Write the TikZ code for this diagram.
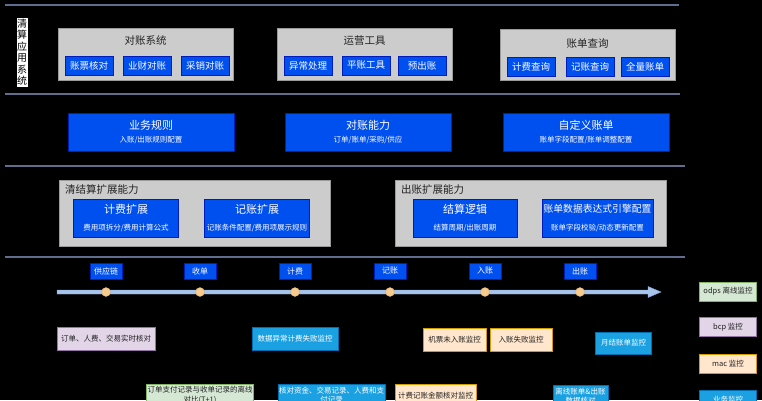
\documentclass[tikz,border=0pt]{standalone}
\usepackage{fontspec}
\setmainfont{Noto Sans CJK SC}
\newfontfamily\cjk{Noto Sans CJK SC}
\definecolor{sepline}{HTML}{5F6E8C}
\definecolor{grayfill}{HTML}{CCCCCC}
\definecolor{grayedge}{HTML}{9A9A9A}
\definecolor{bluefill}{HTML}{0050EF}
\definecolor{blueedge}{HTML}{001DBC}
\definecolor{monblue}{HTML}{1BA1E2}
\definecolor{monblueedge}{HTML}{006EAF}
\definecolor{greenfill}{HTML}{D5E8D4}
\definecolor{greenedge}{HTML}{82B366}
\definecolor{lavfill}{HTML}{E1D5E7}
\definecolor{lavedge}{HTML}{9673A6}
\definecolor{peachfill}{HTML}{FFE6CC}
\definecolor{peachedge}{HTML}{D79B00}
\definecolor{tline}{HTML}{A9C4EB}
\definecolor{tlineedge}{HTML}{7EA6E0}
\definecolor{dotfill}{HTML}{F7CB8E}
\definecolor{darktext}{HTML}{222222}
\tikzset{
  sep/.style={draw=sepline, line width=1.3pt},
  graybox/.style={draw=grayedge, fill=grayfill, line width=0.6pt, inner sep=0pt},
  btn/.style={draw=blueedge, fill=bluefill, line width=0.5pt, text=white, inner sep=0pt,
     minimum width=48pt, minimum height=19pt, font=\fontsize{9.5}{11}\selectfont},
  bigblue/.style={draw=blueedge, fill=bluefill, line width=0.5pt, inner sep=0pt},
  titletxt/.style={text=darktext, font=\fontsize{10.5}{12}\selectfont, inner sep=0pt},
  wtitle/.style={text=white, font=\fontsize{11}{13}\selectfont, inner sep=0pt},
  wsub/.style={text=white, font=\fontsize{7.5}{9}\selectfont, inner sep=0pt},
  tlabel/.style={draw=blueedge, fill=bluefill, line width=0.5pt, text=white, inner sep=0pt,
     minimum width=32pt, minimum height=16pt, font=\fontsize{8}{9}\selectfont},
  tdot/.style={circle, fill=dotfill, draw=dotfill!85!black, line width=0.3pt, minimum size=9pt, inner sep=0pt},
  mon/.style={inner sep=0pt, line width=0.5pt, align=center, font=\fontsize{7.5}{9.5}\selectfont},
  mgreen/.style={mon, draw=greenedge, fill=greenfill, text=darktext},
  mlav/.style={mon, draw=lavedge, fill=lavfill, text=darktext},
  mpeach/.style={mon, draw=peachedge, fill=peachfill, text=darktext},
  mblue/.style={mon, draw=monblueedge, fill=monblue, text=white},
  vchar/.style={fill=white, text=black, inner sep=0.5pt, minimum width=11pt, minimum height=11.6pt, font=\fontsize{10}{11}\selectfont},
}
\begin{document}
\begin{tikzpicture}[x=1pt, y=-1pt]
\clip (0,0) rectangle (762,400);
\fill[black] (0,0) rectangle (762,400);

% separator lines
\coordinate (s1a) at (5,5);   \coordinate (s1b) at (679,5);
\coordinate (s2a) at (5,94);  \coordinate (s2b) at (680,94);
\coordinate (s3a) at (5,166); \coordinate (s3b) at (685,166);
\coordinate (s4a) at (5,257); \coordinate (s4b) at (685,257);
\draw[sep] (s1a) -- (s1b);
\draw[sep] (s2a) -- (s2b);
\draw[sep] (s3a) -- (s3b);
\draw[sep] (s4a) -- (s4b);

% vertical label
\node[vchar] (v1) at (22,23.5) {清};
\node[vchar] (v2) at (22,35) {算};
\node[vchar] (v3) at (22,46.5) {应};
\node[vchar] (v4) at (22,58) {用};
\node[vchar] (v5) at (22,69.5) {系};
\node[vchar] (v6) at (22,81) {统};

% row 1 gray boxes
\node[graybox, minimum width=175pt, minimum height=52pt] (g1) at (145.5,54) {};
\node[titletxt] (g1t) at (145.5,41) {对账系统};
\node[btn] (b11) at (89,65.5) {账票核对};
\node[btn] (b12) at (147,65.5) {业财对账};
\node[btn] (b13) at (205,65.5) {采销对账};

\node[graybox, minimum width=175pt, minimum height=52pt] (g2) at (364.5,54) {};
\node[titletxt] (g2t) at (364.5,41) {运营工具};
\node[btn] (b21) at (308,65.5) {异常处理};
\node[btn] (b22) at (366,65.5) {平账工具};
\node[btn] (b23) at (422,65.5) {预出账};

\node[graybox, minimum width=175pt, minimum height=51pt] (g3) at (587.5,54.5) {};
\node[titletxt] (g3t) at (587.5,44) {账单查询};
\node[btn] (b31) at (531,67) {计费查询};
\node[btn] (b32) at (590,67) {记账查询};
\node[btn] (b33) at (645,67) {全量账单};

% row 2 blue boxes
\node[bigblue, minimum width=166pt, minimum height=38pt] (r1) at (151,132) {};
\node[wtitle] (r1t) at (151,125) {业务规则};
\node[wsub] (r1s) at (151,140) {入账/出账规则配置};
\node[bigblue, minimum width=166pt, minimum height=38pt] (r2) at (368,132) {};
\node[wtitle] (r2t) at (368,125) {对账能力};
\node[wsub] (r2s) at (368,140) {订单/账单/采购/供应};
\node[bigblue, minimum width=166pt, minimum height=38pt] (r3) at (586,132) {};
\node[wtitle] (r3t) at (586,125) {自定义账单};
\node[wsub] (r3s) at (586,140) {账单字段配置/账单调整配置};

% row 3 extension boxes
\node[graybox, minimum width=271pt, minimum height=66pt] (e1) at (194.5,213) {};
\node[titletxt, anchor=west] (e1t) at (65,190) {清结算扩展能力};
\node[bigblue, minimum width=105pt, minimum height=38pt] (e11) at (126,218) {};
\node[wtitle] (e11t) at (126,209) {计费扩展};
\node[wsub] (e11s) at (126,228) {费用项拆分/费用计算公式};
\node[bigblue, minimum width=105pt, minimum height=38pt] (e12) at (257,218) {};
\node[wtitle] (e12t) at (257,209) {记账扩展};
\node[wsub] (e12s) at (257,228) {记账条件配置/费用项展示规则};

\node[graybox, minimum width=271pt, minimum height=66pt] (e2) at (530.5,213) {};
\node[titletxt, anchor=west] (e2t) at (401,190) {出账扩展能力};
\node[bigblue, minimum width=104pt, minimum height=38pt] (e21) at (465,218) {};
\node[wtitle] (e21t) at (465,209) {结算逻辑};
\node[wsub] (e21s) at (465,228) {结算周期/出账周期};
\node[bigblue, minimum width=111pt, minimum height=38pt] (e22) at (597.5,218) {};
\node[wtitle, font=\fontsize{9.8}{12}\selectfont] (e22t) at (597.5,209) {账单数据表达式引擎配置};
\node[wsub] (e22s) at (597.5,228) {账单字段校验/动态更新配置};

% timeline
\coordinate (tstart) at (57,292);
\coordinate (tend) at (648,292);
\coordinate (ttip) at (661,292);
\fill[tline, draw=tlineedge, line width=0.4pt] (57,290) -- (648,290) -- (648,286.5) -- (661,292) -- (648,297.5) -- (648,294) -- (57,294) -- cycle;

\foreach \n/\x/\t in {1/106/供应链, 2/200/收单, 3/295/计费, 4/390/记账, 5/485/入账, 6/580/出账}{
  \node[tlabel] (lab\n) at (\x,271) {\t};
  \node[tdot] (dot\n) at (\x,292) {};
}

% monitors row
\node[mlav, minimum width=98pt, minimum height=23pt] (m1) at (106,339) {订单、人费、交易实时核对};
\node[mblue, minimum width=86pt, minimum height=23pt] (m2) at (295,339) {数据异常计费失败监控};
\node[mpeach, minimum width=63pt, minimum height=23pt] (m3) at (454.5,339.5) {机票未入账监控};
\node[mpeach, minimum width=62pt, minimum height=23pt] (m4) at (521,339.5) {入账失败监控};
\node[mblue, minimum width=56pt, minimum height=22pt] (m5) at (623.5,343) {月结账单监控};

% bottom row (cut off at the lower edge, as in the reference)
\node[mgreen, minimum width=107pt, minimum height=22pt, anchor=north] (n1) at (200,384) {订单支付记录与收单记录的离线\\对比(T+1)};
\node[mblue, minimum width=107pt, minimum height=22pt, anchor=north] (n2) at (331.5,384) {核对资金、交易记录、人费和支\\付记录};
\node[mpeach, minimum width=81pt, minimum height=22pt, anchor=north] (n3) at (435.5,384) {计费记账金额核对监控};
\node[mblue, minimum width=55pt, minimum height=22pt, anchor=north] (n4) at (580.5,385) {离线账单\&出账\\数据核对};

% legend
\node[mgreen, minimum width=57pt, minimum height=19pt] (l1) at (728,291.5) {odps 离线监控};
\node[mlav, minimum width=57pt, minimum height=19pt] (l2) at (728,327) {bcp 监控};
\node[mpeach, minimum width=57pt, minimum height=19pt] (l3) at (728,363.5) {mac 监控};
\node[mblue, minimum width=57pt, minimum height=19pt, anchor=north] (l4) at (728,390) {业务监控};
\end{tikzpicture}
\end{document}
